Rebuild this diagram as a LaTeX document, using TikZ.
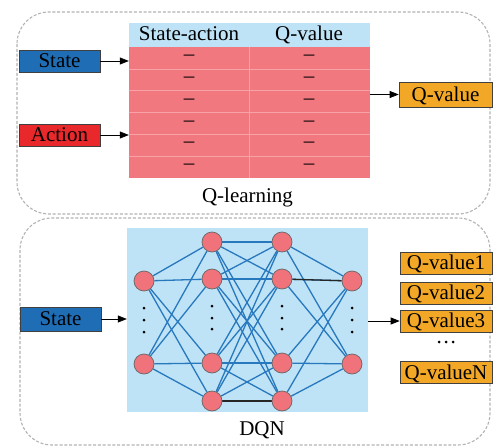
\documentclass[tikz,border=0pt]{standalone}
\usepackage{fontspec}
\setmainfont{Liberation Serif}
\usetikzlibrary{arrows.meta}
\pgfdeclarelayer{back}
\pgfdeclarelayer{mid}
\pgfsetlayers{back,mid,main}
\definecolor{stblue}{HTML}{1F6EB5}
\definecolor{acred}{HTML}{E8282B}
\definecolor{qorange}{HTML}{F2A726}
\definecolor{tpink}{HTML}{F2787F}
\definecolor{lblue}{HTML}{BEE3F7}
\definecolor{eblue}{HTML}{2878BE}
\definecolor{npink}{HTML}{F0737C}
\definecolor{tline}{HTML}{F6A2A7}
\begin{document}
\begin{tikzpicture}[x=1pt,y=-1pt,
  font=\fontsize{21}{24}\selectfont,
  box/.style={draw=black!75, line width=0.7pt, inner sep=0pt, minimum height=22pt, text height=13.9pt, text depth=0pt},
  arr/.style={-{Triangle[length=9pt,width=7pt]}, line width=0.7pt, black},
  outer/.style={draw=gray!60, line width=1.1pt, dash pattern=on 3pt off 1.8pt, rounded corners=32pt},
  neuron/.style={circle, fill=npink, draw=black!60, line width=0.7pt, minimum size=20pt, inner sep=0pt},
  edge/.style={eblue, line width=1.3pt},
  blk/.style={black!85, line width=1.3pt},
  ndot/.style={circle, fill=black, inner sep=0pt, minimum size=3pt},
  lbl/.style={text height=13.9pt, text depth=0pt, inner sep=0pt},
  dashcell/.style={anchor=base, inner sep=0pt},
  rowline/.style={draw=tline, line width=0.6pt}]
\useasboundingbox (0,0) rectangle (493,447);

% outer dashed frames
\draw[outer] (17,12) rectangle (490,214);
\draw[outer] (20,218) rectangle (490,445);

% ---------- Q-learning ----------
\node[fill=lblue, minimum width=241pt, minimum height=24pt, inner sep=0pt] (thead) at (249.5,35) {};
\node[fill=tpink, minimum width=241pt, minimum height=131pt, inner sep=0pt] (tab) at (249.5,112.5) {};
\foreach \k in {1,...,5} \draw[rowline] (129,{47+\k*21.833}) -- (370,{47+\k*21.833});
\draw[rowline] (249,47) -- (249,178);
\node[lbl] (h1) at (189,34) {State-action};
\node[lbl] (h2) at (309,34) {Q-value};
\foreach \k in {0,...,5} {
  \node[dashcell] (da\k) at (189,{47+21.833*(\k+0.5)+2.6}) {–};
  \node[dashcell] (db\k) at (309,{47+21.833*(\k+0.5)+2.6}) {–};
}
\node[box, fill=stblue, minimum width=81pt] (state1) at (59.5,61) {State};
\node[box, fill=acred, minimum width=81pt] (action) at (59.5,135) {Action};
\node[box, fill=qorange, minimum width=93pt, minimum height=25pt] (qv) at (445.5,94.5) {Q-value};
\draw[arr] (state1.east) -- (state1.east -| tab.west);
\draw[arr] (action.east) -- (action.east -| tab.west);
\draw[arr] (tab.east |- qv.west) -- (qv.west);
\node[lbl] (qlab) at (247.5,196) {Q-learning};

% ---------- DQN ----------
\begin{pgfonlayer}{back}
\node[fill=lblue, minimum width=241pt, minimum height=184pt, inner sep=0pt] (net) at (247.5,320) {};
\end{pgfonlayer}
\node[neuron] (a1) at (144,281) {};
\node[neuron] (a2) at (144,364) {};
\node[neuron] (b1) at (212,242) {};
\node[neuron] (b2) at (212,279) {};
\node[neuron] (b3) at (212,363) {};
\node[neuron] (b4) at (212,401) {};
\node[neuron] (c1) at (282,242) {};
\node[neuron] (c2) at (282,279) {};
\node[neuron] (c3) at (282,363) {};
\node[neuron] (c4) at (282,401) {};
\node[neuron] (e1) at (352,281) {};
\node[neuron] (e2) at (352,364) {};
\begin{pgfonlayer}{mid}
\foreach \i in {a1,a2} \foreach \j in {b1,b2,b3,b4} \draw[edge] (\i) -- (\j);
\foreach \i in {b1,b2,b3,b4} \foreach \j in {c1,c2,c3,c4} \draw[edge] (\i) -- (\j);
\foreach \i in {c1,c2,c3,c4} \foreach \j in {e1,e2} \draw[edge] (\i) -- (\j);
\draw[blk] (b4) -- (c4);
\draw[blk] (c2) -- (e1);
\end{pgfonlayer}
\foreach \y [count=\n] in {308,320,332} {
  \node[ndot] (pa\n) at (144,\y) {};
  \node[ndot] (pe\n) at (352,\y) {};
}
\foreach \y [count=\n] in {306,318,329} {
  \node[ndot] (pb\n) at (212,\y) {};
  \node[ndot] (pc\n) at (282,\y) {};
}
\node[box, fill=stblue, minimum width=81pt, minimum height=24pt] (state2) at (60.5,319) {State};
\draw[arr] (state2.east) -- (state2.east -| net.west);
\node[box, fill=qorange, minimum width=92pt] (q1) at (446,263) {Q-value1};
\node[box, fill=qorange, minimum width=92pt] (q2) at (446,293) {Q-value2};
\node[box, fill=qorange, minimum width=92pt] (q3) at (446,321) {Q-value3};
\foreach \x [count=\n] in {439,446,453} \node[ndot] (qd\n) at (\x,342) {};
\node[box, fill=qorange, minimum width=92pt] (qn) at (446,372.5) {Q-valueN};
\draw[arr] (net.east |- q3.west) -- (q3.west);
\node[lbl] (dlab) at (262,428.5) {DQN};
\end{tikzpicture}
\end{document}
